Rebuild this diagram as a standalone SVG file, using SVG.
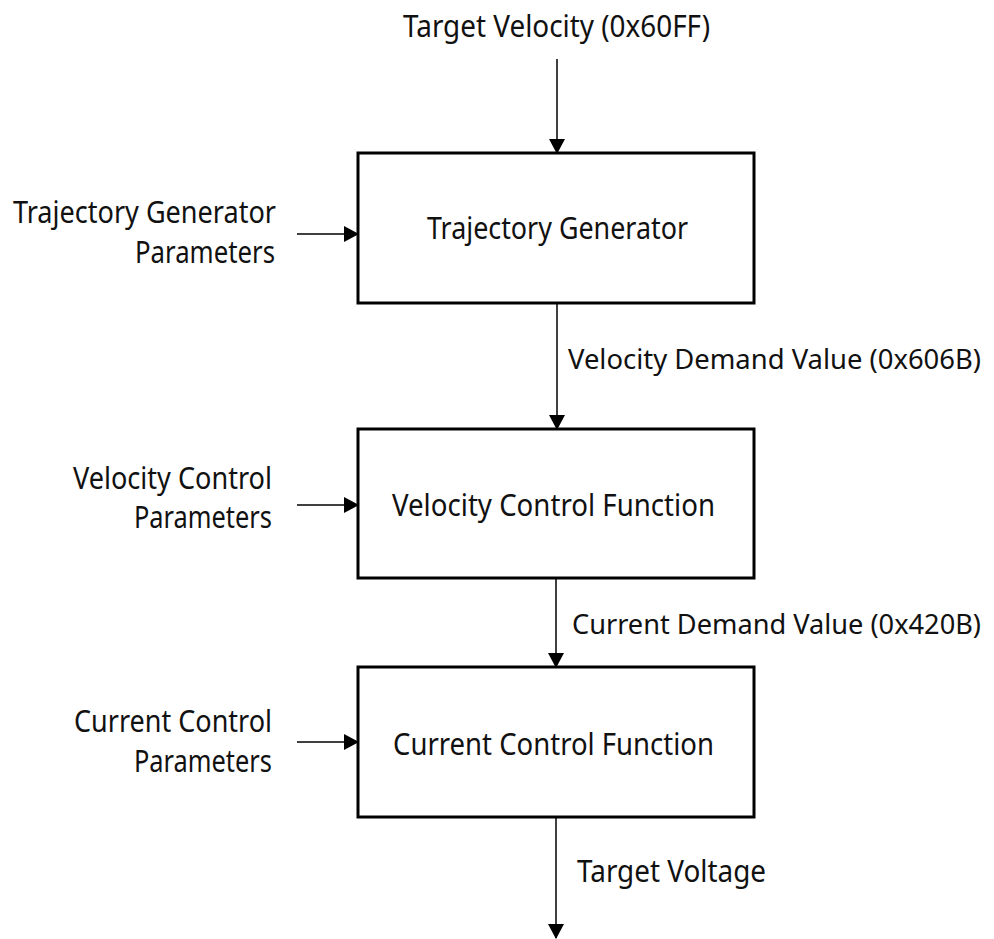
<svg xmlns="http://www.w3.org/2000/svg" width="994" height="939" viewBox="0 0 994 939">
<defs>
<style>
text{font-family:"Noto Sans","Open Sans","DejaVu Sans",sans-serif;font-size:30px;fill:#111;}
.sm{font-size:27px;}
.box{fill:#fff;stroke:#000;stroke-width:3;}
.con{stroke:#000;stroke-width:1.5;fill:none;marker-end:url(#ah);}
</style>
<marker id="ah" markerUnits="userSpaceOnUse" markerWidth="16" markerHeight="18" refX="14" refY="8" orient="auto">
<path d="M0,0 L15,8 L0,16 Z" fill="#000"/>
</marker>
</defs>
<rect width="994" height="939" fill="#fff"/>
<g id="connectors">
<line class="con" x1="557" y1="59" x2="557" y2="153"/>
<line class="con" x1="557" y1="303" x2="557" y2="429"/>
<line class="con" x1="556" y1="578" x2="556" y2="667"/>
<line class="con" x1="556" y1="817" x2="556" y2="938"/>
<line class="con" x1="297" y1="234" x2="358" y2="234"/>
<line class="con" x1="297" y1="505" x2="358" y2="505"/>
<line class="con" x1="297" y1="742" x2="358" y2="742"/>
<text x="403" y="37" textLength="307" lengthAdjust="spacingAndGlyphs">Target Velocity (0x60FF)</text>
<text class="sm" x="568" y="369" textLength="413" lengthAdjust="spacingAndGlyphs">Velocity Demand Value (0x606B)</text>
<text class="sm" x="572" y="634" textLength="409" lengthAdjust="spacingAndGlyphs">Current Demand Value (0x420B)</text>
<text x="577" y="882" textLength="189" lengthAdjust="spacingAndGlyphs">Target Voltage</text>
</g>
<g id="trajectory-generator">
<rect class="box" x="358" y="153" width="396" height="150"/>
<text x="427" y="239" textLength="261" lengthAdjust="spacingAndGlyphs">Trajectory Generator</text>
</g>
<g id="trajectory-generator-parameters">
<text x="13" y="223" textLength="263" lengthAdjust="spacingAndGlyphs">Trajectory Generator</text>
<text x="135" y="263" textLength="140" lengthAdjust="spacingAndGlyphs">Parameters</text>
</g>
<g id="velocity-control-function">
<rect class="box" x="358" y="429" width="396" height="149"/>
<text x="392" y="516" textLength="323" lengthAdjust="spacingAndGlyphs">Velocity Control Function</text>
</g>
<g id="velocity-control-parameters">
<text x="73" y="489" textLength="199" lengthAdjust="spacingAndGlyphs">Velocity Control</text>
<text x="134" y="528" textLength="138" lengthAdjust="spacingAndGlyphs">Parameters</text>
</g>
<g id="current-control-function">
<rect class="box" x="358" y="667" width="396" height="150"/>
<text x="393" y="755" textLength="321" lengthAdjust="spacingAndGlyphs">Current Control Function</text>
</g>
<g id="current-control-parameters">
<text x="74" y="732" textLength="198" lengthAdjust="spacingAndGlyphs">Current Control</text>
<text x="134" y="772" textLength="138" lengthAdjust="spacingAndGlyphs">Parameters</text>
</g>
</svg>
